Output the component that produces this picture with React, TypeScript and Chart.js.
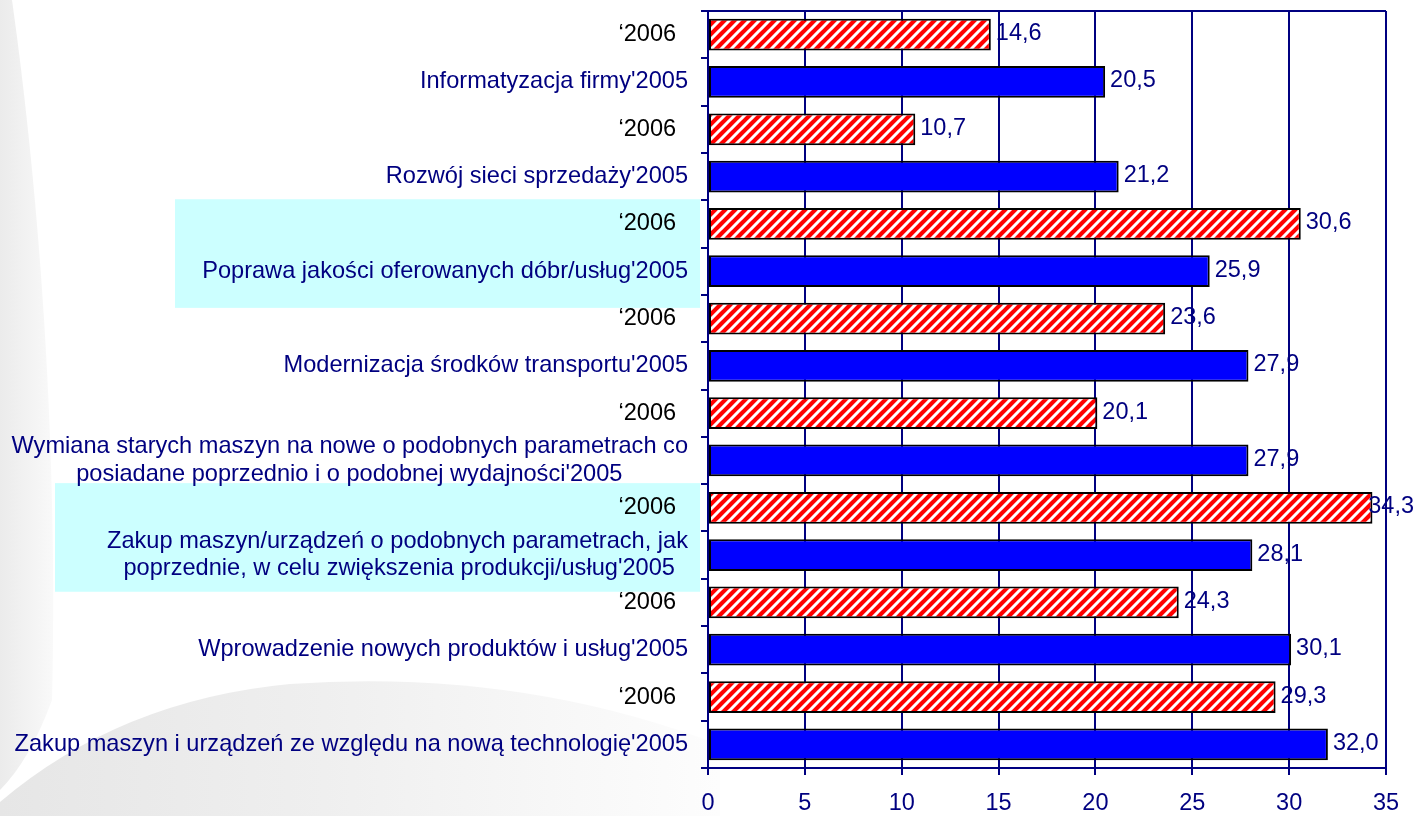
import { useEffect, useRef } from "react";
import { Chart, registerables } from "chart.js";

Chart.register(...registerables);

// ---------- data ----------
const categories: string[][] = [
  ["Informatyzacja firmy"],
  ["Rozwój sieci sprzedaży"],
  ["Poprawa jakości oferowanych dóbr/usług"],
  ["Modernizacja środków transportu"],
  ["Wymiana starych maszyn na nowe o podobnych parametrach co", "posiadane poprzednio i o podobnej wydajności"],
  ["Zakup maszyn/urządzeń o podobnych parametrach, jak", "poprzednie, w celu zwiększenia produkcji/usług"],
  ["Wprowadzenie nowych produktów i usług"],
  ["Zakup maszyn i urządzeń ze względu na nową technologię"],
];
const values2006: number[] = [14.6, 10.7, 30.6, 23.6, 20.1, 34.3, 24.3, 29.3];
const values2005: number[] = [20.5, 21.2, 25.9, 27.9, 27.9, 28.1, 30.1, 32.0];
const label2006 = "\u20182006";
const suffix2005 = "'2005";
const highlightedCategories: number[] = [2, 5];
const xMin = 0;
const xMax = 35;
const xStep = 5;

// ---------- style ----------
const NAVY = "#000080";
const BLUE = "#0000FF";
const RED = "#FF0000";
const CYAN_BOX = "#CCFFFF";
const FONT = "'Liberation Sans', Arial, sans-serif";
const LABEL_SIZE = 23.6;
const TICK_SIZE = 23.5;
const VALUE_SIZE = 23.5;

function makeHatch(): CanvasPattern | string {
  const s = 10;
  const c = document.createElement("canvas");
  c.width = s;
  c.height = s;
  const g = c.getContext("2d");
  if (!g) return RED;
  g.fillStyle = RED;
  g.fillRect(0, 0, s, s);
  g.strokeStyle = "#FFFFFF";
  g.lineWidth = 3;
  g.lineCap = "square";
  g.beginPath();
  for (const off of [-s, 0, s]) {
    g.moveTo(off - 1, s + 1);
    g.lineTo(off + s + 1, -1);
  }
  g.stroke();
  const p = g.createPattern(c, "repeat");
  return p || RED;
}

function buildLabels(): (string | string[])[] {
  const c = document.createElement("canvas");
  const g = c.getContext("2d")!;
  g.font = `${LABEL_SIZE}px ${FONT}`;
  const space = g.measureText(" ").width || 6;
  const out: (string | string[])[] = [];
  categories.forEach((lines) => {
    out.push(label2006 + "\u2002");
    const full = lines.map((l, i) => (i === lines.length - 1 ? l + suffix2005 : l));
    if (full.length === 1) {
      out.push(full[0]);
    } else {
      const widths = full.map((l) => g.measureText(l).width);
      const maxW = Math.max(...widths);
      out.push(full.map((l, i) => l + " ".repeat(Math.max(0, Math.round((maxW - widths[i]) / 2 / space)))));
    }
  });
  return out;
}

const fmt = (v: number) => v.toFixed(1).replace(".", ",");

export default function App() {
  const ref = useRef<HTMLCanvasElement>(null);

  useEffect(() => {
    const canvas = ref.current;
    if (!canvas) return;

    const labels = buildLabels();
    const data2006: (number | null)[] = [];
    const data2005: (number | null)[] = [];
    categories.forEach((_, i) => {
      data2006.push(values2006[i], null);
      data2005.push(null, values2005[i]);
    });

    const backgroundPlugin = {
      id: "bgDecor",
      beforeDraw(chart: any) {
        const ctx = chart.ctx as CanvasRenderingContext2D;
        ctx.save();
        // left crescent swoosh
        let grad = ctx.createLinearGradient(0, 0, 60, 0);
        grad.addColorStop(0, "#ebebeb");
        grad.addColorStop(1, "#fbfbfb");
        ctx.fillStyle = grad;
        ctx.beginPath();
        ctx.moveTo(0, 0);
        ctx.lineTo(12, 0);
        ctx.bezierCurveTo(40, 200, 58, 450, 52, 700);
        ctx.quadraticCurveTo(30, 760, 0, 790);
        ctx.closePath();
        ctx.fill();
        // bottom swoosh
        grad = ctx.createLinearGradient(0, 0, 720, 0);
        grad.addColorStop(0, "#e6e6e6");
        grad.addColorStop(0.45, "#efefef");
        grad.addColorStop(1, "#fdfdfd");
        ctx.fillStyle = grad;
        ctx.beginPath();
        ctx.moveTo(0, 802);
        ctx.quadraticCurveTo(120, 700, 290, 684);
        ctx.quadraticCurveTo(520, 668, 720, 745);
        ctx.lineTo(720, 816);
        ctx.lineTo(0, 816);
        ctx.closePath();
        ctx.fill();

        // highlight boxes behind labels
        const y = chart.scales.y;
        const area = chart.chartArea;
        const boxLeft: Record<number, number> = { 2: 175, 5: 55 };
        const rowH = Math.abs(y.getPixelForValue(1) - y.getPixelForValue(0));
        ctx.fillStyle = CYAN_BOX;
        highlightedCategories.forEach((c) => {
          const top = y.getPixelForValue(2 * c) - rowH / 2 - 1;
          const bottom = y.getPixelForValue(2 * c + 1) + rowH / 2 + 13;
          const left = boxLeft[c] ?? 100;
          ctx.fillRect(left, top, area.left - 8 - left, bottom - top);
        });
        ctx.restore();
      },
    };

    const framePlugin = {
      id: "frameTop",
      beforeDatasetsDraw(chart: any) {
        const ctx = chart.ctx as CanvasRenderingContext2D;
        const a = chart.chartArea;
        ctx.save();
        ctx.strokeStyle = NAVY;
        ctx.lineWidth = 2;
        ctx.beginPath();
        ctx.moveTo(a.left, a.top);
        ctx.lineTo(a.right, a.top);
        ctx.stroke();
        ctx.restore();
      },
    };

    const valuePlugin = {
      id: "valueLabels",
      afterDatasetsDraw(chart: any) {
        const ctx = chart.ctx as CanvasRenderingContext2D;
        ctx.save();
        ctx.font = `${VALUE_SIZE}px ${FONT}`;
        ctx.fillStyle = NAVY;
        ctx.textAlign = "left";
        ctx.textBaseline = "middle";
        chart.data.datasets.forEach((ds: any, di: number) => {
          const meta = chart.getDatasetMeta(di);
          meta.data.forEach((el: any, i: number) => {
            const v = ds.data[i];
            if (v == null) return;
            const { x, y } = el.getProps(["x", "y"], true);
            const txt = fmt(v);
            const w = ctx.measureText(txt).width;
            const tx = Math.min(x + 5, chart.width - 7 - w);
            ctx.fillText(txt, tx, y - 1);
          });
        });
        ctx.restore();
      },
    };

    const chart = new Chart(canvas, {
      type: "bar",
      data: {
        labels,
        datasets: [
          {
            label: "2006",
            data: data2006,
            backgroundColor: makeHatch() as any,
            borderColor: "#000000",
            borderWidth: 2,
            borderSkipped: false,
            grouped: false,
            barPercentage: 0.67,
            categoryPercentage: 1,
          },
          {
            label: "2005",
            data: data2005,
            backgroundColor: BLUE,
            borderColor: "#000000",
            borderWidth: 2,
            borderSkipped: false,
            grouped: false,
            barPercentage: 0.67,
            categoryPercentage: 1,
          },
        ],
      },
      options: {
        indexAxis: "y",
        responsive: false,
        animation: false,
        layout: { padding: { top: 11, right: 35, left: 0, bottom: 0 } },
        plugins: {
          legend: { display: false },
          tooltip: { enabled: false },
        },
        scales: {
          x: {
            type: "linear",
            min: xMin,
            max: xMax,
            ticks: {
              stepSize: xStep,
              color: NAVY,
              font: { family: FONT, size: TICK_SIZE },
              padding: 14,
            },
            grid: {
              color: NAVY,
              lineWidth: 2,
              tickLength: 7,
              drawTicks: true,
            },
            border: { color: NAVY, width: 2 },
            afterFit(scale: any) {
              scale.height = 48;
              scale.paddingLeft = 0;
              scale.paddingRight = 0;
            },
          },
          y: {
            type: "category",
            offset: true,
            ticks: {
              color: (c: any) => (c.index % 2 === 0 ? "#000000" : NAVY),
              font: { family: FONT, size: LABEL_SIZE, lineHeight: 1.17 },
              padding: 13,
              autoSkip: false,
            },
            grid: {
              offset: true,
              drawOnChartArea: false,
              drawTicks: true,
              tickLength: 7,
              color: NAVY,
              lineWidth: 2,
            },
            border: { color: NAVY, width: 2 },
            afterFit(scale: any) {
              scale.width = 708;
              scale.paddingTop = 0;
              scale.paddingBottom = 0;
            },
          },
        },
      },
      plugins: [backgroundPlugin, framePlugin, valuePlugin],
    } as any);

    return () => chart.destroy();
  }, []);

  return (
    <div style={{ position: "absolute", left: 0, top: 0, width: 1421, height: 816, background: "#ffffff" }}>
      <canvas ref={ref} width={1421} height={816} style={{ display: "block" }} />
    </div>
  );
}
